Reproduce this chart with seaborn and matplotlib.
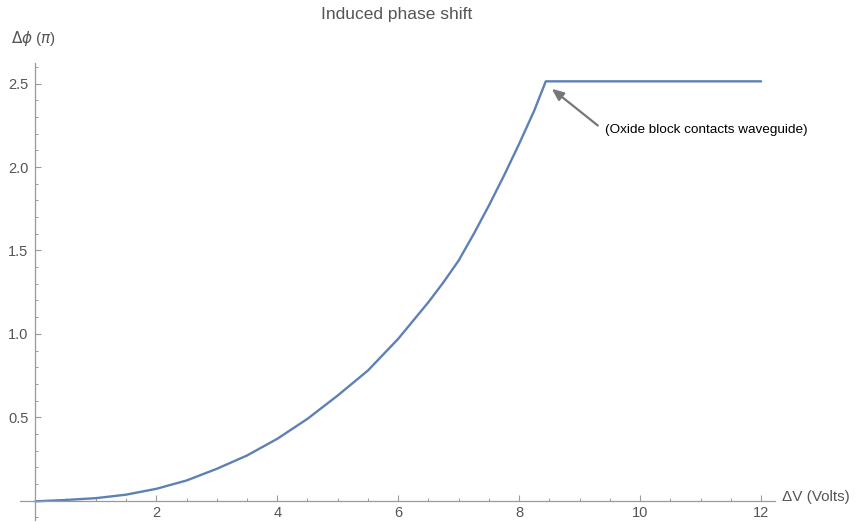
import matplotlib
matplotlib.use("Agg")
import matplotlib.pyplot as plt
import seaborn as sns
import pandas as pd
from matplotlib.ticker import MultipleLocator, FixedLocator

# Data
voltage = [0.0, 0.5, 1.0, 1.5, 2.0, 2.5, 3.0, 3.5, 4.0, 4.5, 5.0, 5.5,
           6.0, 6.5, 6.75, 7.0, 7.25, 7.5, 7.75, 8.0, 8.25, 8.44, 12.0]
phase = [-0.005, 0.003, 0.014, 0.035, 0.07, 0.12, 0.19, 0.27, 0.37, 0.49,
         0.63, 0.78, 0.97, 1.19, 1.31, 1.44, 1.60, 1.77, 1.95, 2.14, 2.34,
         2.515, 2.515]
x_ticks = [2, 4, 6, 8, 10, 12]
y_ticks = [0.5, 1.0, 1.5, 2.0, 2.5]
title = "Induced phase shift"
annotation = "(Oxide block contacts waveguide)"

df = pd.DataFrame({"V": voltage, "phi": phase})

sns.set_style("white")
plt.rcParams["font.family"] = ["Liberation Sans", "DejaVu Sans"]
plt.rcParams["mathtext.fontset"] = "dejavusans"

fig = plt.figure(figsize=(8.56, 5.23), dpi=100)
ax = fig.add_axes([20 / 856, 1 - 520 / 523, 755 / 856, 457 / 523])

sns.lineplot(data=df, x="V", y="phi", ax=ax, color="#5E81B5", lw=1.7,
             sort=False, estimator=None)

ax.set_xlim(-0.253, 12.23)
ax.set_ylim(-0.117, 2.625)

for s in ["top", "right"]:
    ax.spines[s].set_visible(False)
ax.spines["left"].set_position(("data", 0))
ax.spines["bottom"].set_position(("data", 0))
for s in ["left", "bottom"]:
    ax.spines[s].set_color("#9a9a9a")
    ax.spines[s].set_linewidth(0.9)

ax.xaxis.set_major_locator(FixedLocator(x_ticks))
ax.yaxis.set_major_locator(FixedLocator(y_ticks))
ax.xaxis.set_minor_locator(MultipleLocator(0.5))
ax.yaxis.set_minor_locator(MultipleLocator(0.1))
ax.set_xticklabels([str(t) for t in x_ticks])
ax.set_yticklabels([f"{t:.1f}" for t in y_ticks])
ax.tick_params(axis="both", which="both", bottom=True, left=True,
               top=False, right=False)
ax.tick_params(axis="both", which="major", direction="in", length=4.5,
               width=0.8, color="#9a9a9a", labelsize=10.5, labelcolor="#555555")
ax.tick_params(axis="both", which="minor", direction="in", length=2.5,
               width=0.7, color="#9a9a9a")
ax.tick_params(axis="x", which="major", pad=4)
ax.tick_params(axis="y", which="major", pad=5)
ax.set_xlabel("")
ax.set_ylabel("")

fig.text(397 / 856, 1 - 14 / 523, title, ha="center", va="center",
         fontsize=12.5, color="#555555")
fig.text(11 / 856, 1 - 39 / 523, r"$\Delta\phi$ ($\pi$)", ha="left",
         va="center", fontsize=11, color="#555555")
fig.text(782 / 856, 1 - 497 / 523, "ΔV (Volts)", ha="left", va="center",
         fontsize=11, color="#555555")

ax.annotate("", xy=(8.54, 2.47), xytext=(9.30, 2.25),
            arrowprops=dict(arrowstyle="-|>,head_length=0.7,head_width=0.3",
                            color="#777777", lw=1.6, shrinkA=0, shrinkB=0))
ax.text(9.42, 2.22, annotation, ha="left", va="center", fontsize=9.7,
        color="black")

fig.savefig("out.png", dpi=100)
